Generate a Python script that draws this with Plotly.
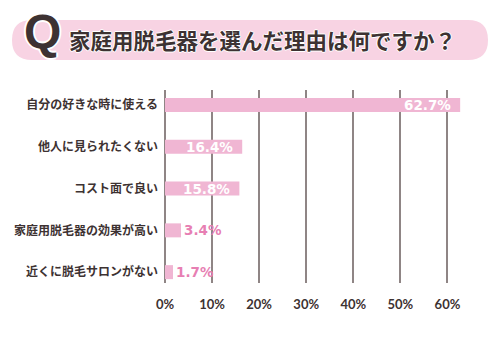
import plotly.graph_objects as go

# Survey data: reasons for choosing a home hair-removal device
reasons = [
    "自分の好きな時に使える",
    "他人に見られたくない",
    "コスト面で良い",
    "家庭用脱毛器の効果が高い",
    "近くに脱毛サロンがない",
]
shares = [62.7, 16.4, 15.8, 3.4, 1.7]
tick_values = [0, 10, 20, 30, 40, 50, 60]
tick_labels = ["0%", "10%", "20%", "30%", "40%", "50%", "60%"]
title_text = "家庭用脱毛器を選んだ理由は何ですか？"

W, H = 500, 350
ML, MR, MT, MB = 165, 29, 90, 67
PW, PH = W - ML - MR, H - MT - MB

BAR = "#f0b6d3"
PINK_TEXT = "#e77fb3"
DARK = "#3d3232"
GRID = "#8f8585"


def px(x):
    return (x - ML) / PW


def py(y):
    return (H - MB - y) / PH


def pill(x0, y0, x1, y1, r):
    pts = [
        f"M{px(x0 + r)},{py(y0)}",
        f"L{px(x1 - r)},{py(y0)}",
        f"Q{px(x1)},{py(y0)} {px(x1)},{py(y0 + r)}",
        f"Q{px(x1)},{py(y1)} {px(x1 - r)},{py(y1)}",
        f"L{px(x0 + r)},{py(y1)}",
        f"Q{px(x0)},{py(y1)} {px(x0)},{py(y1 - r)}",
        f"Q{px(x0)},{py(y0)} {px(x0 + r)},{py(y0)}",
        "Z",
    ]
    return " ".join(pts)


fig = go.Figure(
    go.Bar(
        x=shares,
        y=reasons,
        orientation="h",
        marker=dict(color=BAR, line=dict(width=0)),
        width=0.335,
        hoverinfo="skip",
    )
)

# value labels: white inside the long bars, pink beside the short ones
annotations = []
for name, v in zip(reasons, shares):
    inside = v > 10
    annotations.append(
        dict(
            x=v,
            y=name,
            xref="x",
            yref="y",
            text=f"{v}%",
            showarrow=False,
            xanchor="right" if inside else "left",
            xshift=-7 if inside else 1,
            font=dict(
                family="DejaVu Sans, sans-serif",
                size=13.5,
                weight="bold",
                color="white" if inside else PINK_TEXT,
            ),
        )
    )

# heading: big "Q" and the question text on a pink pill
annotations.append(
    dict(
        x=px(42),
        y=py(31),
        xref="paper",
        yref="paper",
        text="<b>Q</b>",
        showarrow=False,
        xanchor="center",
        yanchor="middle",
        font=dict(family="Liberation Sans, Arial, sans-serif", size=48, color=DARK,
                  shadow="2px 0 0 white, -2px 0 0 white, 0 2px 0 white, 0 -2px 0 white"),
    )
)
annotations.append(
    dict(
        x=px(67),
        y=py(40),
        xref="paper",
        yref="paper",
        text=f"<b>{title_text}</b>",
        showarrow=False,
        xanchor="left",
        yanchor="middle",
        font=dict(family="Noto Sans CJK JP, sans-serif", size=21.5, color=DARK,
                  shadow="1px 0 0 white, -1px 0 0 white, 0 1px 0 white, 0 -1px 0 white"),
    )
)

shapes = [
    dict(
        type="path",
        xref="paper",
        yref="paper",
        path=pill(12, 20, 488, 60, 20),
        fillcolor="#f8d3e3",
        line=dict(width=0),
        layer="below",
    )
]

fig.update_layout(
    width=W,
    height=H,
    margin=dict(l=ML, r=MR, t=MT, b=MB, pad=0),
    paper_bgcolor="white",
    plot_bgcolor="white",
    showlegend=False,
    annotations=annotations,
    shapes=shapes,
    xaxis=dict(
        range=[0, 65],
        tickvals=tick_values,
        ticktext=[f"<b>{t}</b>" for t in tick_labels],
        showgrid=True,
        gridcolor=GRID,
        gridwidth=2,
        zeroline=True,
        zerolinecolor=GRID,
        zerolinewidth=2,
        showline=False,
        ticks="",
        ticklabelstandoff=12,
        tickfont=dict(family="Lato, Liberation Sans, sans-serif", size=13, color=DARK),
        fixedrange=True,
    ),
    yaxis=dict(
        categoryorder="array",
        categoryarray=reasons,
        range=[4.26, -0.36],
        showgrid=False,
        zeroline=False,
        showline=False,
        ticks="",
        ticklabelstandoff=6,
        tickfont=dict(family="Noto Sans CJK JP, sans-serif", size=12, color=DARK, weight="bold"),
        fixedrange=True,
    ),
)

fig.write_html("out.html")
